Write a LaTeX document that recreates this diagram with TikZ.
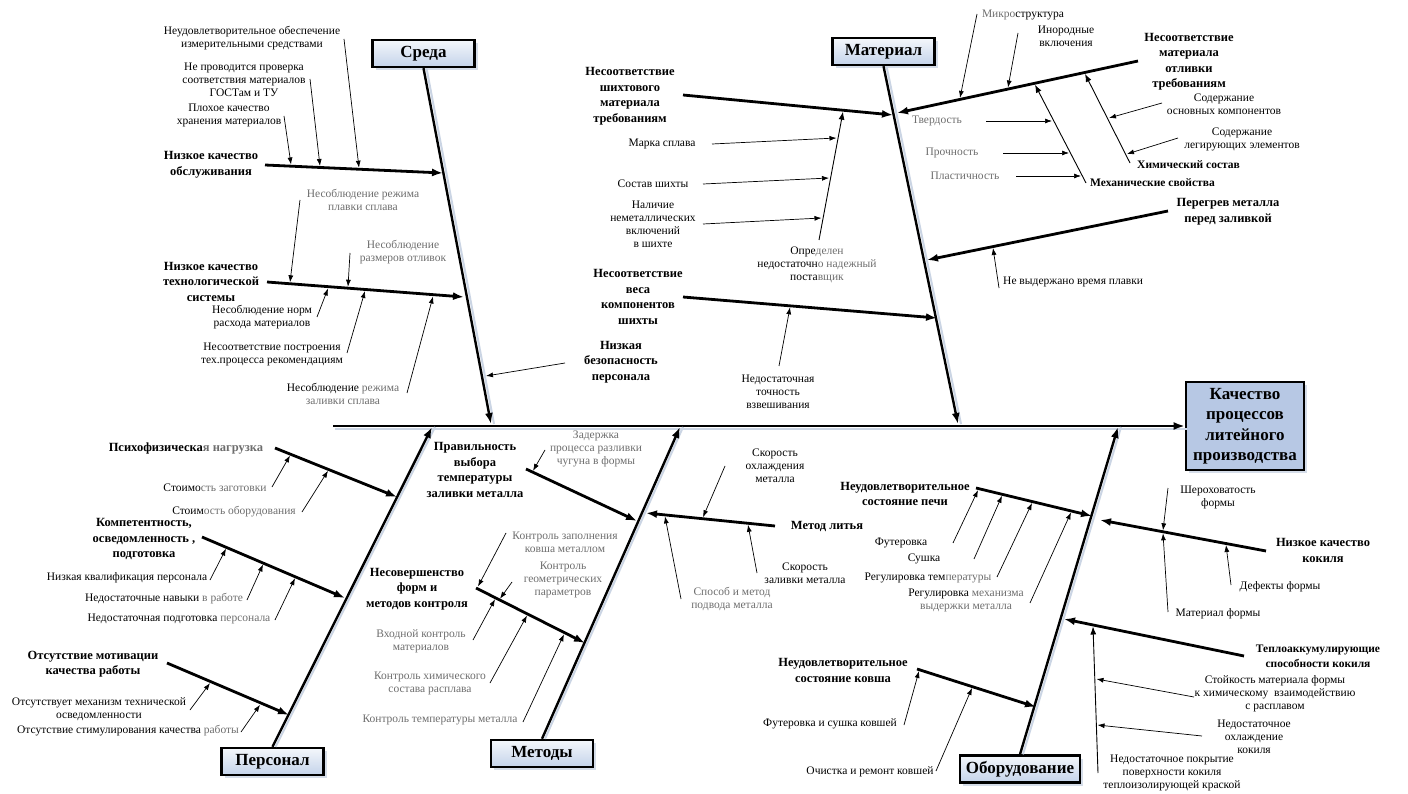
\documentclass[tikz,border=0pt]{standalone}
\usepackage{fontspec}
\setmainfont{Liberation Serif}
\usetikzlibrary{arrows.meta,shadows}
\definecolor{gtx}{HTML}{6E6E6E}
\definecolor{headfill}{HTML}{B7C8E4}
\definecolor{shd}{HTML}{CBD5E4}
\definecolor{boxtop}{HTML}{F4F7FB}
\definecolor{boxbot}{HTML}{C4D3EA}
\newcommand{\subarr}[3]{\coordinate (#1s) at (#2); \coordinate (#1e) at (#3); \draw[subar] (#1s) -- (#1e);}
\newcommand{\brarr}[3]{\coordinate (#1s) at (#2); \coordinate (#1e) at (#3); \draw[brn] (#1s) -- (#1e);}
\newcommand{\subline}[3]{\coordinate (#1s) at (#2); \coordinate (#1e) at (#3); \draw[subln] (#1s) -- (#1e);}
\begin{document}
\begin{tikzpicture}[x=1pt,y=-1pt,
  sm/.style={font=\fontsize{11.5}{13}\selectfont, align=center, inner sep=0pt},
  gr/.style={sm, text=gtx},
  bl/.style={font=\fontsize{12.5}{15.5}\selectfont\bfseries, align=center, inner sep=0pt},
  blS/.style={font=\fontsize{11.5}{15}\selectfont\bfseries, align=center, inner sep=0pt},
  catbox/.style={draw=black, line width=2.4pt, top color=boxtop, bottom color=boxbot,
    minimum width=102pt, minimum height=27pt, inner sep=0pt,
    font=\fontsize{17}{19}\selectfont\bfseries,
    drop shadow={shadow xshift=3pt, shadow yshift=-3pt, fill=shd, opacity=0.8}},
  headbox/.style={draw=black, line width=2.6pt, fill=headfill,
    minimum width=118pt, minimum height=88pt, inner sep=0pt, align=center,
    font=\fontsize{17}{20.5}\selectfont\bfseries,
    drop shadow={shadow xshift=3pt, shadow yshift=-3pt, fill=shd, opacity=0.8}},
  spine/.style={line width=2.4pt, -{Latex[length=11pt,width=8pt]}},
  spshadow/.style={line width=2pt, shd},
  brn/.style={line width=2.8pt, -{Latex[length=11pt,width=8pt]}},
  subar/.style={line width=0.7pt, -{Latex[length=7pt,width=5pt]}},
  subln/.style={line width=0.9pt, -{Latex[length=8pt,width=6pt]}}
]
\useasboundingbox (0,0) rectangle (1408,794);
\fill[white] (0,0) rectangle (1408,794);

% ---------- head and main spine ----------
\node[headbox] (head) at (1245,426) {Качество\\процессов\\литейного\\производства};
\coordinate (ms) at (333,426);
\draw[spshadow] ([shift={(2,3)}]ms) -- ([shift={(2,3)}]head.west);
\draw[spine] (ms) -- (head.west);

% ---------- category boxes ----------
\node[catbox] (sreda) at (423.5,53.5) {Среда};
\node[catbox] (mat) at (883.5,51.5) {Материал};
\node[catbox] (pers) at (272.5,761.5) {Персонал};
\node[catbox] (meth) at (542,753.5) {Методы};
\node[catbox, minimum width=120pt] (equip) at (1020,769) {Оборудование};

% ---------- category spines ----------
\coordinate (sre) at (491,424);
\coordinate (mae) at (958,424);
\coordinate (pee) at (432,427);
\coordinate (mee) at (680,427);
\coordinate (eqe) at (1118,427);
\draw[spshadow] ([shift={(3,0)}]sreda.south) -- ([shift={(3,0)}]sre);
\draw[spshadow] ([shift={(3,0)}]mat.south) -- ([shift={(3,0)}]mae);
\draw[spshadow] ([shift={(3,0)}]pers.north) -- ([shift={(3,0)}]pee);
\draw[spshadow] ([shift={(3,0)}]meth.north) -- ([shift={(3,0)}]mee);
\draw[spshadow] ([shift={(3,0)}]equip.north) -- ([shift={(3,0)}]eqe);
\draw[spine] (sreda.south) -- (sre);
\draw[spine] (mat.south) -- (mae);
\draw[spine] (pers.north) -- (pee);
\draw[spine] (meth.north) -- (mee);
\draw[spine] (equip.north) -- (eqe);

% ================= СРЕДА =================
\node[sm] (t1) at (252,38.5) {Неудовлетворительное обеспечение\\измерительными средствами};
\node[sm] (t2) at (244,80) {Не проводится проверка\\соответствия материалов\\ГОСТам и ТУ};
\node[sm] (t3) at (229,115.5) {Плохое качество\\хранения материалов};
\node[bl] (b1) at (211,165) {Низкое качество\\обслуживания};
\brarr{b1}{265,165}{443,173}
\subarr{a1}{284,116}{291,164.5}
\subarr{a2}{310,79}{320,166}
\subarr{a3}{344,39}{359,167.7}

\node[gr] (t4) at (363,200) {Несоблюдение режима\\плавки сплава};
\node[bl] (b2) at (211,281.5) {Низкое качество\\технологической\\системы};
\brarr{b2}{267,282}{464,297}
\subarr{a4}{300,200}{290,282.3}
\node[gr] (t5) at (403,252.5) {Несоблюдение\\размеров отливок};
\subarr{a5}{350,253}{348,286.7}
\node[sm] (t6) at (262,317) {Несоблюдение норм\\расхода материалов};
\subarr{a6}{317,317}{328,288.5}
\node[sm] (t7) at (272,354) {Несоответствие построения\\тех.процесса рекомендациям};
\subarr{a7}{347,353}{365,291}
\node[sm] (t8) at (343,393.5) {Несоблюдение \textcolor{gtx}{режима}\\\textcolor{gtx}{заливки сплава}};
\subarr{a8}{407,393}{433,296.5}
\node[bl] (b3) at (621,362) {Низкая\\безопасность\\персонала};
\subarr{a9}{565,363}{486,376}

% ================= МАТЕРИАЛ =================
\node[bl] (b4) at (630,96) {Несоответствие\\шихтового\\материала\\требованиям};
\brarr{b4}{683,95}{893,115}
\subline{l1}{819,240}{843,111.7}
\node[sm] (t9) at (817,264.5) {Опре\textcolor{gtx}{делен}\\недостаточн\textcolor{gtx}{о надежный}\\поста\textcolor{gtx}{вщик}};
\node[sm] (t10) at (662,144) {Марка сплава};
\subarr{a10}{712,144}{836.5,138}
\node[sm] (t11) at (653,184) {Состав шихты};
\subarr{a11}{703,184}{829,178}
\node[sm] (t12) at (653,224) {Наличие\\неметаллических\\включений\\в шихте};
\subarr{a12}{703,224}{821.5,218}

\node[bl] (b5) at (638,297) {Несоответствие\\веса\\компонентов\\шихты};
\brarr{b5}{683,297}{937,318}
\node[sm] (t13) at (778,392) {Недостаточная\\точность\\взвешивания};
\subarr{a13}{779,366}{790,307.3}

\brarr{b6}{1138,61}{897,113}
\node[bl] (b6) at (1189,61.5) {Несоответствие\\материала\\отливки\\требованиям};
\node[sm] (t14) at (1023,15) {\textcolor{gtx}{Микро}структура};
\subarr{a14}{977,14}{960,97.9}
\node[sm] (t15) at (1066,36) {Инородные\\включения};
\subarr{a15}{1018,33}{1008,87.5}
\subline{l2}{1086,183}{1035,84.7}
\node[blS, anchor=west] (b7) at (1090,183) {Механические свойства};
\node[gr] (t16) at (937,121) {Твердость};
\subarr{a16}{986,121}{1052,121}
\node[gr] (t17) at (952,153) {Прочность};
\subarr{a17}{1003,153}{1069,153}
\node[gr] (t18) at (965,176) {Пластичность};
\subarr{a18}{1016,176}{1081,176}
\subline{l3}{1130,163}{1085,73.9}
\node[blS, anchor=west] (b8) at (1137,165) {Химический состав};
\node[sm] (t19) at (1224,104) {Содержание\\основных компонентов};
\subarr{a19}{1162,103}{1109,118}
\node[sm] (t20) at (1242,139) {Содержание\\легирующих элементов};
\subarr{a20}{1178,138}{1127,154}
\brarr{b7}{1168,211}{927,260}
\node[bl] (b9) at (1228,211.5) {Перегрев металла\\перед заливкой};
\node[sm, anchor=west] (t21) at (1003,282) {Не выдержано время плавки};
\subarr{a21}{999,288}{993,248}

% ================= ПЕРСОНАЛ =================
\node[bl] (b10) at (186,449) {Психофизическа\textcolor{gtx}{я нагрузка}};
\brarr{b10}{275,448}{397,497}
\node[sm] (t22) at (215,488) {Стоимо\textcolor{gtx}{сть заготовки}};
\subarr{a22}{272,487}{290,455.5}
\node[sm] (t23) at (234,512) {Стоим\textcolor{gtx}{ость оборудования}};
\subarr{a23}{302,512}{328,470.8}
\node[bl] (b11) at (144,539) {Компетентность,\\осведомленность ,\\подготовка};
\brarr{b11}{202,537}{345,598}
\node[sm] (t24) at (127,578) {Низкая квалификация персонала};
\subarr{a24}{210,580}{226,548.7}
\node[sm] (t25) at (164,599) {Недостаточные навыки \textcolor{gtx}{в работе}};
\subarr{a25}{247,600}{263,564.5}
\node[sm] (t26) at (179,619) {Недостаточная подготовка \textcolor{gtx}{персонала}};
\subarr{a26}{275,620}{295,578.2}
\node[bl] (b12) at (93,664) {Отсутствие мотивации\\качества работы};
\brarr{b12}{167,663}{289,715}
\node[sm] (t27) at (99,709.5) {Отсутствует механизм технической\\осведомленности};
\subarr{a27}{190,710}{210,683.1}
\node[sm] (t28) at (128,731) {Отсутствие стимулирования качества \textcolor{gtx}{работы}};
\subarr{a28}{241,732}{260,704.8}

% ================= МЕТОДЫ =================
\node[bl] (b13) at (475,470) {Правильность\\выбора\\температуры\\заливки металла};
\brarr{b13}{526,469}{637,521}
\node[gr] (t29) at (596,449) {Задержка\\процесса разливки\\чугуна в формы};
\subarr{a29}{545,450}{533,470.8}
\node[bl] (b14) at (827,526) {Метод литья};
\brarr{b14}{775,526}{646,513}
\node[sm] (t30) at (775,466) {Скорость\\охлаждения\\металла};
\subarr{a30}{725,466}{703,517.2}
\node[sm] (t31) at (805,573) {Скорость\\заливки металла};
\subarr{a31}{757,573}{748,524.8}
\node[gr] (t32) at (732,599) {Способ и метод\\подвода металла};
\subarr{a32}{681,599}{665,516.4}
\node[bl] (b15) at (417,589) {Несовершенство\\форм и\\методов контроля};
\brarr{b15}{476,588}{585,643}
\node[gr] (t33) at (565,542) {Контроль заполнения\\ковша металлом};
\subarr{a33}{506,533}{478,586.5}
\node[gr] (t34) at (563,579.5) {Контроль\\геометрических\\параметров};
\subarr{a34}{512,582}{500,598.7}
\node[gr] (t35) at (421,641) {Входной контроль\\материалов};
\subarr{a35}{473,640}{495,599.2}
\node[gr] (t36) at (430,683) {Контроль химического\\состава расплава};
\subarr{a36}{490,683}{527,615.5}
\node[gr] (t37) at (440,720) {Контроль температуры металла};
\subarr{a37}{523,722}{564,634.3}

% ================= ОБОРУДОВАНИЕ =================
\node[bl] (b16) at (905,494) {Неудовлетворительное\\состояние печи};
\brarr{b16}{976,488}{1092,516}
\node[sm] (t38) at (901,543) {Футеровка};
\subarr{a38}{953,543}{978,490.2}
\node[sm] (t39) at (924,559) {Сушка};
\subarr{a39}{974,559}{1002,495.8}
\node[sm] (t40) at (928,578) {Регулировка тем\textcolor{gtx}{пературы}};
\subarr{a40}{997,577}{1032,503}
\node[sm] (t41) at (966,600) {Регулировка \textcolor{gtx}{механизма}\\\textcolor{gtx}{выдержки металла}};
\subarr{a41}{1030,603}{1071,512.4}

\node[bl] (b17) at (1323,550.5) {Низкое качество\\кокиля};
\brarr{b17}{1266,551}{1100,520}
\node[sm] (t42) at (1218,497.5) {Шероховатость\\формы};
\subarr{a42}{1168,488}{1163,530.3}
\node[sm] (t43) at (1218,614) {Материал формы};
\subarr{a43}{1168,612}{1163,533.3}
\node[sm] (t44) at (1280,587) {Дефекты формы};
\subarr{a44}{1231,585}{1226,545}

\node[blS] (b18) at (1318,656) {Теплоаккумулирующие\\способности кокиля};
\brarr{b18}{1244,656}{1064,619}
\subline{l4}{1098,773}{1093,626.5}
\node[sm] (t45) at (1275,694) {Стойкость материала формы\\к химическому\enspace взаимодействию\\с расплавом};
\subarr{a45}{1194,697}{1096.5,679}
\node[sm] (t46) at (1254,737) {Недостаточное\\охлаждение\\кокиля};
\subarr{a46}{1202,736}{1097.5,725}
\node[sm] (t47) at (1172,772.5) {Недостаточное покрытие\\поверхности кокиля\\теплоизолирующей краской};

\node[bl] (b19) at (843,670.5) {Неудовлетворительное\\состояние ковша};
\brarr{b19}{917,669}{1036,707}
\node[sm] (t48) at (830,724) {Футеровка и сушка ковшей};
\subarr{a48}{904,725}{919,671}
\node[sm] (t49) at (870,772) {Очистка и ремонт ковшей};
\subarr{a49}{936,771}{972,688}
\end{tikzpicture}
\end{document}
